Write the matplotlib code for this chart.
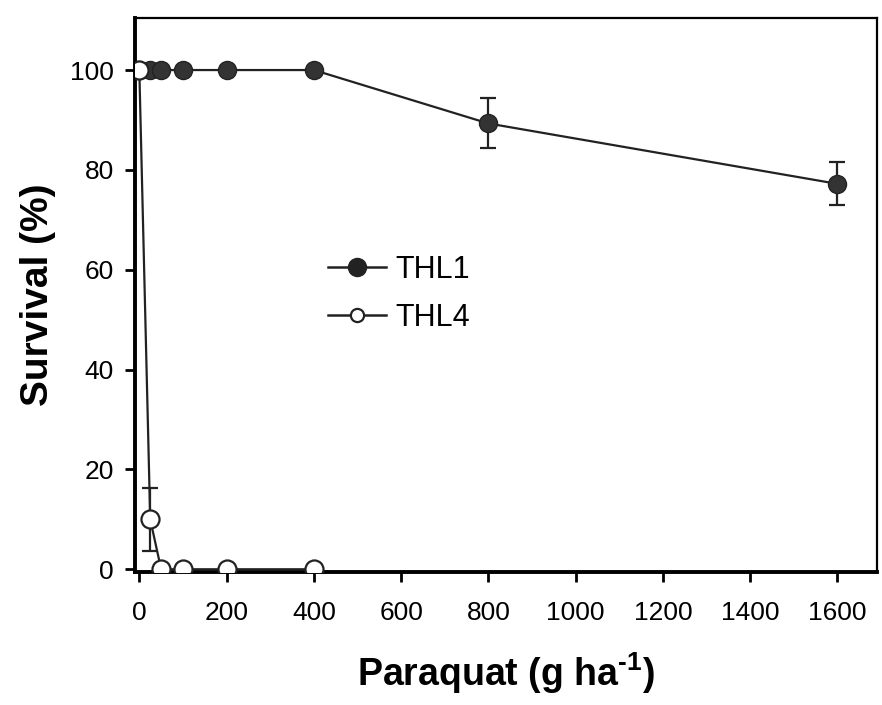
import matplotlib.pyplot as plt
from matplotlib.lines import Line2D

plt.rcParams['font.family'] = ['Liberation Sans', 'DejaVu Sans']
plt.rcParams['mathtext.fontset'] = 'custom'
plt.rcParams['mathtext.rm'] = 'Liberation Sans:bold'
plt.rcParams['mathtext.bf'] = 'Liberation Sans:bold'

# datos
dosis_thl1 = [0, 25, 50, 100, 200, 400, 800, 1600]
surv_thl1 = [100, 100, 100, 100, 100, 100, 89.3, 77.2]
err_thl1 = [0, 0, 0, 0, 0, 0, 5.0, 4.3]

dosis_thl4 = [0, 25, 50, 100, 200, 400]
surv_thl4 = [100, 10, 0, 0, 0, 0]
err_thl4 = [0, 6.3, 0, 0, 0, 0]

x_ticks = [0, 200, 400, 600, 800, 1000, 1200, 1400, 1600]
y_ticks = [0, 20, 40, 60, 80, 100]

fig = plt.figure(figsize=(8.82, 7.05), dpi=100)
ax = fig.add_axes([0.153, 0.189, 0.841, 0.786])

ax.errorbar(dosis_thl1, surv_thl1, yerr=err_thl1, color='#222222', lw=1.6,
            marker='o', ms=13, mfc='#333333', mec='#222222', capsize=6,
            elinewidth=1.6, capthick=1.6, zorder=3)
ax.errorbar(dosis_thl4, surv_thl4, yerr=err_thl4, color='#222222', lw=1.6,
            marker='o', ms=13, mfc='white', mec='#222222', mew=1.6, capsize=6,
            elinewidth=1.6, capthick=1.6, zorder=4)

ax.set_xlim(-10, 1690)
ax.set_ylim(-0.5, 110.5)
ax.set_xticks(x_ticks)
ax.set_yticks(y_ticks)
ax.tick_params(direction='out', length=7, width=2, labelsize=19)
ax.tick_params(axis='x', pad=14)
ax.tick_params(axis='y', pad=8)

for lado in ['left', 'bottom']:
    ax.spines[lado].set_linewidth(2.8)
for lado in ['top', 'right']:
    ax.spines[lado].set_linewidth(1.6)

ax.set_xlabel('Paraquat (g ha$^{\\text{-1}}$)', fontsize=27, fontweight='bold', labelpad=18)
ax.set_ylabel('Survival (%)', fontsize=28, fontweight='bold', labelpad=10)

handles = [
    Line2D([], [], color='#222222', lw=1.8, marker='o', ms=13, mfc='#222222', mec='#222222'),
    Line2D([], [], color='#222222', lw=1.8, marker='o', ms=9.5, mfc='white', mec='#222222', mew=1.6),
]
fig.legend(handles, ['THL1', 'THL4'], loc='center left', bbox_to_anchor=(313 / 882, 1 - 294 / 705),
           frameon=False, borderpad=0, fontsize=22, handlelength=1.9, handletextpad=0.3,
           labelspacing=0.6)

fig.savefig('out.png', dpi=100)
